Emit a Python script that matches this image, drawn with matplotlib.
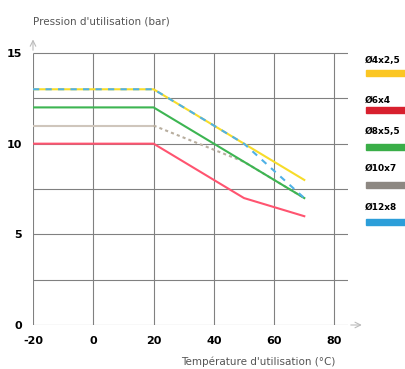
import matplotlib.pyplot as plt
import numpy as np

# Data
temps_x = [-20, 0, 20, 40, 60, 80]
press_y = [0, 5, 10, 15]
grid_y = [0, 2.5, 5, 7.5, 10, 12.5, 15]

t_4 = [-20, 20, 70]
p_4 = [13, 13, 8]
t_6 = [-20, 20, 50, 70]
p_6 = [10, 10, 7, 6]
t_8 = [-20, 20, 70]
p_8 = [12, 12, 7]
t_10 = [-20, 20, 50, 70]
p_10 = [11, 11, 9, 7]
t_12 = [-20, 20, 50, 70]
p_12 = [13, 13, 10, 7]

labels = ['Ø4x2,5', 'Ø6x4', 'Ø8x5,5', 'Ø10x7', 'Ø12x8']
legend_colors = ['#fbc623', '#d8202e', '#3aae48', '#8d8882', '#2c9ed9']

fig = plt.figure(figsize=(4.06, 3.69), dpi=100)
ax = fig.add_axes([33/406, 44/369, 315/406, 286.5/369])
ax.set_xlim(-20, 84.5)
ax.set_ylim(0, 15.8)

# Grid
ax.hlines(grid_y, -20, 84.5, color='#808080', lw=0.8, zorder=1)
ax.vlines(temps_x, 0, 15, color='#808080', lw=0.8, zorder=1)

# Curves
ax.plot(t_4, p_4, color='#f7dc2a', lw=1.5, zorder=3)
ax.plot(t_6, p_6, color='#ff5470', lw=1.5, zorder=3)
ax.plot(t_8, p_8, color='#3db552', lw=1.5, zorder=3)
ax.plot(t_10[:2], p_10[:2], color='#cfc6bc', lw=1.5, zorder=2)
ax.plot(t_10[1:], p_10[1:], color='#b8ae9f', lw=1.5, ls=(0, (1.5, 1.5)), zorder=2)
ax.plot(t_12, p_12, color='#4fb1e6', lw=1.5, ls=(0, (3, 3)), zorder=4)

# Axes styling
for s in ['top', 'right', 'bottom', 'left']:
    ax.spines[s].set_visible(False)
ax.set_xticks(temps_x)
ax.set_yticks(press_y)
ax.set_xticklabels([str(v) for v in temps_x], fontweight='bold', fontsize=8)
ax.set_yticklabels([str(v) for v in press_y], fontweight='bold', fontsize=8)
ax.tick_params(length=0)
ax.tick_params(axis='x', pad=8)
ax.tick_params(axis='y', pad=8)

# Arrows
ax.annotate('', xy=(-20, 15.9), xytext=(-20, 15), xycoords='data',
            arrowprops=dict(arrowstyle='->', color='#bbbbbb', lw=0.8),
            annotation_clip=False)
ax.annotate('', xy=(90, 0), xytext=(84.5, 0), xycoords='data',
            arrowprops=dict(arrowstyle='->', color='#bbbbbb', lw=0.8),
            annotation_clip=False)

# Axis titles
fig.text(33/406, 1 - 22/369, "Pression d'utilisation (bar)", fontsize=7.5,
         color='#555555', ha='left', va='center')
fig.text(335/406, 1 - 362/369, "Température d'utilisation (°C)", fontsize=7.5,
         color='#555555', ha='right', va='center')

# Legend
text_y = [60, 100, 132, 168, 207]
bar_y = [73, 110, 147, 185, 222]
for lab, col, ty, by in zip(labels, legend_colors, text_y, bar_y):
    fig.text(365/406, 1 - ty/369, lab, fontsize=6.5, fontweight='bold',
             ha='left', va='center')
    fig.patches.append(plt.Rectangle((366/406, 1 - (by + 3)/369), 40/406, 6/369,
                                     transform=fig.transFigure, color=col,
                                     figure=fig))

fig.savefig('out.png', dpi=100)
